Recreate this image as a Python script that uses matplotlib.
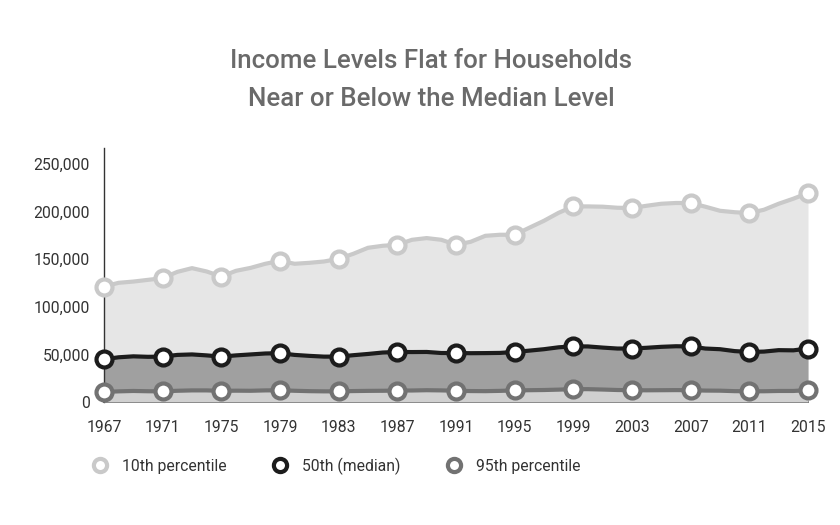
import matplotlib.pyplot as plt
import numpy as np

plt.rcParams['font.family'] = ['Roboto', 'DejaVu Sans']

years = list(range(1967, 2016))

# top series (labelled "10th percentile" in the legend)
top_values = [121400, 125300, 126600, 128400, 130200, 136800, 140700, 137200, 131900, 137900,
              141000, 145300, 148400, 145300, 146300, 147700, 150500, 155800, 162100, 164200,
              165300, 170500, 172300, 170500, 165300, 168400, 174700, 175800, 175800, 183200,
              190500, 198900, 205600, 205600, 205300, 204200, 203900, 206300, 208400, 209200,
              209200, 205300, 201000, 199500, 198600, 202100, 208400, 213700, 219700]

median_values = [44900, 47000, 48000, 47500, 47700, 49500, 50000, 49000, 47700, 49000,
                 50000, 51000, 51300, 49500, 48500, 47700, 47700, 49200, 50500, 52000,
                 52600, 52500, 52600, 51500, 51500, 51300, 51400, 51600, 52600, 54000,
                 55500, 57500, 58500, 58400, 57200, 56200, 56200, 57000, 58000, 58600,
                 58400, 56200, 55500, 53500, 52600, 53000, 54500, 54300, 56200]

# bottom series (labelled "95th percentile" in the legend)
bottom_values = [10500, 11200, 11600, 11300, 11200, 11800, 12200, 12200, 11700, 11900,
                 11800, 12200, 12300, 11800, 11400, 11200, 11200, 11500, 11700, 11800,
                 12000, 12100, 12400, 12200, 11800, 11500, 11400, 11700, 12200, 12400,
                 12600, 13000, 13500, 13500, 13100, 12600, 12400, 12300, 12400, 12500,
                 12400, 12000, 11900, 11400, 11300, 11300, 11600, 11600, 12500]

series_names = ['10th percentile', '50th (median)', '95th percentile']
x_ticks = list(range(1967, 2016, 4))
y_ticks = [0, 50000, 100000, 150000, 200000, 250000]

fig = plt.figure(figsize=(8.4, 5.25), dpi=100)
ax = fig.add_axes([104 / 840, 1 - 402 / 525, (808 - 104) / 840, (402 - 148) / 525])

x = np.array(years)
ax.fill_between(x, 0, top_values, color='#e6e6e6', lw=0, zorder=1)
ax.fill_between(x, 0, median_values, color='#a0a0a0', lw=0, zorder=2)
ax.fill_between(x, 0, bottom_values, color='#d0d0d0', lw=0, zorder=3)

line_styles = [
    (top_values, '#c9c9c9'),
    (median_values, '#1c1c1c'),
    (bottom_values, '#727272'),
]
handles = []
for (vals, color), name in zip(line_styles, series_names):
    h, = ax.plot(x, vals, color=color, lw=3, marker='o', markevery=4,
                 markersize=11.5, markerfacecolor='white', markeredgecolor=color,
                 markeredgewidth=3, clip_on=False, zorder=5, label=name)
    handles.append(h)

ax.set_xlim(1967, 2015)
ax.set_ylim(0, 267000)
ax.set_xticks(x_ticks)
ax.set_yticks(y_ticks)
ax.set_yticklabels(['{:,}'.format(v) for v in y_ticks])
ax.tick_params(axis='both', length=0, labelsize=11.3, labelcolor='#333333')
ax.tick_params(axis='x', pad=13)
ax.tick_params(axis='y', pad=10)
ax.spines['top'].set_visible(False)
ax.spines['right'].set_visible(False)
ax.spines['left'].set_color('#333333')
ax.spines['bottom'].set_color('#333333')
ax.spines['left'].set_linewidth(1)
ax.spines['bottom'].set_linewidth(1.2)
ax.set_facecolor('white')

fig.text(431 / 840, 1 - 80 / 525, 'Income Levels Flat for Households\nNear or Below the Median Level',
         ha='center', va='center', fontsize=18.6, fontweight='medium', color='#6a6a6a',
         linespacing=1.7)

legend_handles = [plt.Line2D([], [], ls='none', marker='o', markersize=9.5,
                             markerfacecolor='white', markeredgecolor=h.get_color(),
                             markeredgewidth=3) for h in handles]
fig.legend(legend_handles, series_names, loc='center left',
           bbox_to_anchor=(78 / 840, 1 - 466 / 525), ncol=3, frameon=False,
           fontsize=11.3, handlelength=1.0, handletextpad=0.9, columnspacing=2.9,
           labelcolor='#333333')

fig.savefig('out.png', dpi=100, facecolor='white')
